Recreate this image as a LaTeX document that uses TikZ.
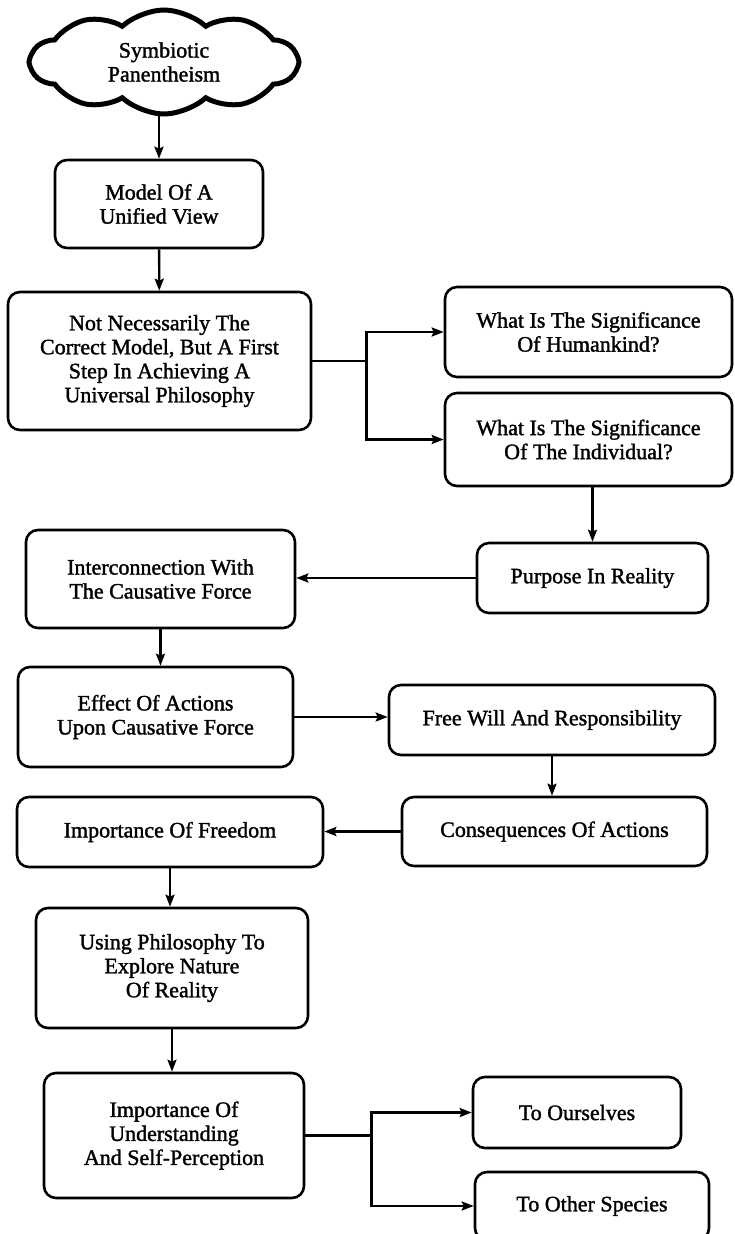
\documentclass[tikz,border=0pt]{standalone}
\usepackage{fontspec}
\setmainfont{Liberation Serif}[FakeBold=1.5]
\usepackage{tikz}
\usetikzlibrary{arrows.meta, positioning, shapes.symbols}
\tikzset{
  boxnode/.style={draw=black,line width=2.6pt,rounded corners=12pt,align=center,
    inner sep=2pt,font=\fontsize{22}{24}\selectfont},
  cloudnode/.style={cloud,draw=black,line width=5pt,cloud puffs=10,cloud puff arc=85,
    cloud ignores aspect,align=center,inner sep=0pt,font=\fontsize{22}{24}\selectfont},
  diredge/.style={-{Stealth[length=12pt,width=9pt,inset=2pt]},line width=2.4pt,black},
}

\begin{document}
\begin{tikzpicture}[x=1pt,y=-1pt]
  \useasboundingbox (0,0) rectangle (734,1234);
  \node[cloudnode,minimum width=266pt,minimum height=104pt] (nCloud) at (164,62) {Symbiotic\\Panentheism};
  \node[boxnode,minimum width=208pt,minimum height=88pt] (nModel) at (159,204) {Model Of A\\Unified View};
  \node[boxnode,minimum width=303pt,minimum height=138pt] (nNotNec) at (159.5,361) {Not Necessarily The\\Correct Model, But A First\\Step In Achieving A\\Universal Philosophy};
  \node[boxnode,minimum width=287pt,minimum height=90pt] (nHuman) at (588.5,332) {What Is The Significance\\Of Humankind?};
  \node[boxnode,minimum width=287pt,minimum height=93pt] (nIndiv) at (588.5,439.5) {What Is The Significance\\Of The Individual?};
  \node[boxnode,minimum width=231pt,minimum height=70pt] (nPurpose) at (592.5,578) {Purpose In Reality};
  \node[boxnode,minimum width=269pt,minimum height=98pt] (nInterconn) at (160.5,579) {Interconnection With\\The Causative Force};
  \node[boxnode,minimum width=275pt,minimum height=100pt] (nEffect) at (155.5,717) {Effect Of Actions\\Upon Causative Force};
  \node[boxnode,minimum width=326pt,minimum height=70pt] (nFreeWill) at (552,720) {Free Will And Responsibility};
  \node[boxnode,minimum width=305pt,minimum height=69pt] (nConseq) at (554.5,831.5) {Consequences Of Actions};
  \node[boxnode,minimum width=306pt,minimum height=70pt] (nFreedom) at (170,832) {Importance Of Freedom};
  \node[boxnode,minimum width=272pt,minimum height=120pt] (nUsePhil) at (172,968) {Using Philosophy To\\Explore Nature\\Of Reality};
  \node[boxnode,minimum width=260pt,minimum height=125pt] (nUnderstand) at (174,1135.5) {Importance Of\\Understanding\\And Self-Perception};
  \node[boxnode,minimum width=208pt,minimum height=71pt] (nOurselves) at (577,1112.5) {To Ourselves};
  \node[boxnode,minimum width=234pt,minimum height=68pt] (nOtherSpec) at (592,1206) {To Other Species};
  \draw[diredge] (nModel.north |- nCloud.south) -- (nModel.north);
  \draw[diredge] (nModel) -- (nNotNec);
  \draw[diredge] (nNotNec.east) -- ++(54,0) |- (nHuman.west);
  \draw[diredge] (nNotNec.east) -- ++(54,0) |- (nIndiv.west);
  \draw[diredge] (nPurpose.north |- nIndiv.south) -- (nPurpose.north);
  \draw[diredge] (nPurpose.west) -- (nPurpose.west -| nInterconn.east);
  \draw[diredge] (nInterconn.south) -- (nInterconn.south |- nEffect.north);
  \draw[diredge] (nEffect.east) -- (nEffect.east -| nFreeWill.west);
  \draw[diredge] (nFreeWill.south) -- (nFreeWill.south |- nConseq.north);
  \draw[diredge] (nConseq.west) -- (nConseq.west -| nFreedom.east);
  \draw[diredge] (nFreedom.south) -- (nFreedom.south |- nUsePhil.north);
  \draw[diredge] (nUsePhil.south) -- (nUsePhil.south |- nUnderstand.north);
  \draw[diredge] (nUnderstand.east) -- ++(66,0) |- (nOurselves.west);
  \draw[diredge] (nUnderstand.east) -- ++(66,0) |- (nOtherSpec.west);
\end{tikzpicture}
\end{document}
